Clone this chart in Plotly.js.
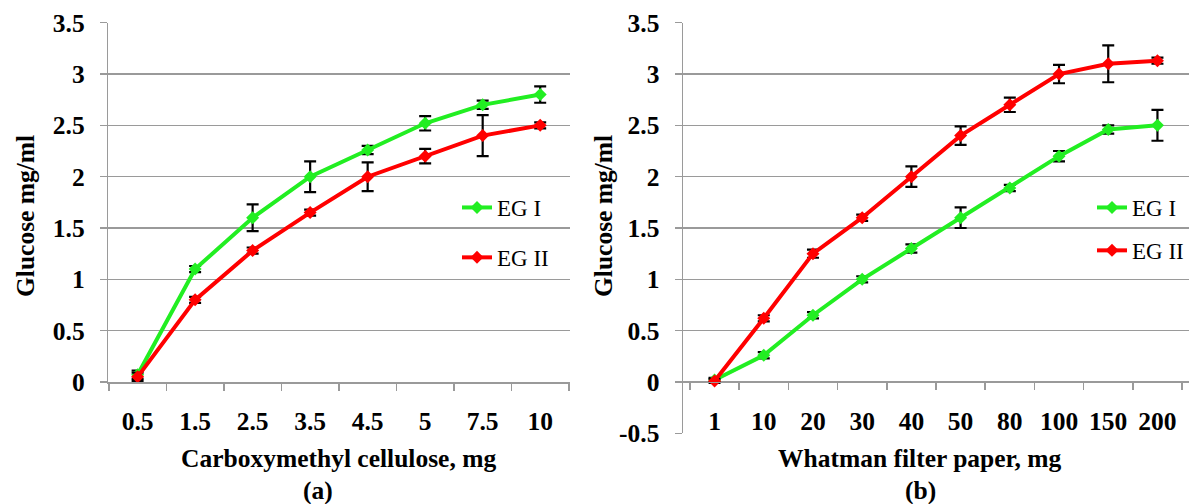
<!DOCTYPE html>
<html>
<head>
<meta charset="utf-8">
<script src="https://cdn.plot.ly/plotly-3.0.1.min.js"></script>
<style>html,body{margin:0;padding:0;background:#fff}#chart{width:1190px;height:504px}</style>
</head>
<body>
<div id="chart"></div>
<script>
// ---- Data ----
const cmcCategories = ['0.5','1.5','2.5','3.5','4.5','5','7.5','10'];
const cmcEG1 = [0.07, 1.1, 1.6, 2.0, 2.26, 2.52, 2.7, 2.8];
const cmcEG1Err = [0.04, 0.03, 0.13, 0.15, 0.04, 0.07, 0.04, 0.08];
const cmcEG2 = [0.05, 0.8, 1.28, 1.65, 2.0, 2.2, 2.4, 2.5];
const cmcEG2Err = [0.04, 0.03, 0.03, 0.03, 0.14, 0.07, 0.2, 0.03];

const wfpCategories = ['1','10','20','30','40','50','80','100','150','200'];
const wfpEG1 = [0.02, 0.26, 0.65, 1.0, 1.3, 1.6, 1.89, 2.2, 2.46, 2.5];
const wfpEG1Err = [0.02, 0.03, 0.03, 0.03, 0.04, 0.1, 0.03, 0.05, 0.04, 0.15];
const wfpEG2 = [0.01, 0.62, 1.25, 1.6, 2.0, 2.4, 2.7, 3.0, 3.1, 3.13];
const wfpEG2Err = [0.02, 0.03, 0.04, 0.03, 0.1, 0.09, 0.07, 0.09, 0.18, 0.03];

const leftTickVals = [0, 0.5, 1, 1.5, 2, 2.5, 3, 3.5];
const leftTickText = ['0', '0.5', '1', '1.5', '2', '2.5', '3', '3.5'];
const rightTickVals = [-0.5, 0, 0.5, 1, 1.5, 2, 2.5, 3, 3.5];
const rightTickText = ['-0.5', '0', '0.5', '1', '1.5', '2', '2.5', '3', '3.5'];

const seriesNames = ['EG I', 'EG II'];

// ---- Styles ----
const W = 1190, H = 504;
const GREEN = '#22ee22', RED = '#ff0000';
const GRID = '#9a9a9a';
const SERIF = 'Liberation Serif, Times New Roman, serif';
const px = v => v / W;
const py = v => 1 - v / H;

function trace(x, y, err, name, color, xa, ya, legend, group) {
  return {
    type: 'scatter', mode: 'lines+markers', x: x, y: y, name: name,
    xaxis: xa, yaxis: ya, legend: legend, legendgroup: group,
    line: {color: color, width: 4},
    marker: {symbol: 'diamond', size: 10, color: color},
    error_y: {type: 'data', array: err, visible: true, color: '#000', thickness: 2.2, width: 6}
  };
}

const data = [
  trace(cmcCategories, cmcEG1, cmcEG1Err, seriesNames[0], GREEN, 'x', 'y', 'legend', 'l1'),
  trace(cmcCategories, cmcEG2, cmcEG2Err, seriesNames[1], RED, 'x', 'y', 'legend', 'l2'),
  trace(wfpCategories, wfpEG1, wfpEG1Err, seriesNames[0], GREEN, 'x2', 'y2', 'legend2', 'r1'),
  trace(wfpCategories, wfpEG2, wfpEG2Err, seriesNames[1], RED, 'x2', 'y2', 'legend2', 'r2')
];

const tickFont = {family: SERIF, size: 25.5, color: '#000', weight: 'bold'};
const titleFont = {family: SERIF, size: 25.5, color: '#000', weight: 'bold'};

const yDomL = [py(382), py(22.7)];
const yDomR = [py(433.3), py(22.7)];
const yRangeR = [-0.5, 3.5];
const xAxisPosR = yDomR[0] + (0 - yRangeR[0]) / (yRangeR[1] - yRangeR[0]) * (yDomR[1] - yDomR[0]);

const xCommon = {
  type: 'category', showgrid: false, zeroline: false, showline: true,
  linecolor: GRID, linewidth: 1.5, ticks: 'outside', tickson: 'boundaries',
  ticklen: 7, tickwidth: 1.5, tickcolor: GRID, tickfont: tickFont,
  ticklabelstandoff: 16, fixedrange: true
};
const yCommon = {
  showgrid: true, gridcolor: GRID, gridwidth: 1.5, zeroline: false, showline: true,
  linecolor: GRID, linewidth: 1.5, ticks: 'outside', ticklen: 7, tickwidth: 1.5,
  tickcolor: GRID, tickfont: tickFont, tickmode: 'array', ticklabelstandoff: 10,
  fixedrange: true
};

const legendCommon = {
  font: {family: SERIF, size: 23, color: '#000'},
  bgcolor: 'rgba(0,0,0,0)', xanchor: 'left', yanchor: 'top', traceorder: 'grouped'
};

const layout = {
  width: W, height: H,
  margin: {l: 0, r: 0, t: 0, b: 0},
  paper_bgcolor: '#fff', plot_bgcolor: '#fff',
  showlegend: true,
  xaxis: Object.assign({}, xCommon, {domain: [px(108.3), px(569.5)], anchor: 'y'}),
  yaxis: Object.assign({}, yCommon, {domain: yDomL, range: [0, 3.5], tickvals: leftTickVals, ticktext: leftTickText, anchor: 'x'}),
  xaxis2: Object.assign({}, xCommon, {domain: [px(683), px(1189)], anchor: 'free', position: xAxisPosR}),
  yaxis2: Object.assign({}, yCommon, {domain: yDomR, range: yRangeR, tickvals: rightTickVals, ticktext: rightTickText, anchor: 'x2'}),
  legend: Object.assign({}, legendCommon, {x: px(457), y: py(186), tracegroupgap: 17}),
  legend2: Object.assign({}, legendCommon, {x: px(1092), y: py(186), tracegroupgap: 10}),
  annotations: [
    {text: 'Glucose mg/ml', xref: 'paper', yref: 'paper', x: px(25), y: py(216), textangle: -90, showarrow: false, font: titleFont, xanchor: 'center', yanchor: 'middle'},
    {text: 'Glucose mg/ml', xref: 'paper', yref: 'paper', x: px(603), y: py(216), textangle: -90, showarrow: false, font: titleFont, xanchor: 'center', yanchor: 'middle'},
    {text: 'Carboxymethyl cellulose, mg', xref: 'paper', yref: 'paper', x: px(338.5), y: py(458), showarrow: false, font: titleFont, xanchor: 'center', yanchor: 'middle'},
    {text: 'Whatman filter paper, mg', xref: 'paper', yref: 'paper', x: px(920), y: py(458), showarrow: false, font: titleFont, xanchor: 'center', yanchor: 'middle'},
    {text: '(a)', xref: 'paper', yref: 'paper', x: px(318), y: py(490), showarrow: false, font: titleFont, xanchor: 'center', yanchor: 'middle'},
    {text: '(b)', xref: 'paper', yref: 'paper', x: px(920), y: py(490), showarrow: false, font: titleFont, xanchor: 'center', yanchor: 'middle'}
  ]
};

Plotly.newPlot('chart', data, layout, {displayModeBar: false, staticPlot: true});
</script>
</body>
</html>
